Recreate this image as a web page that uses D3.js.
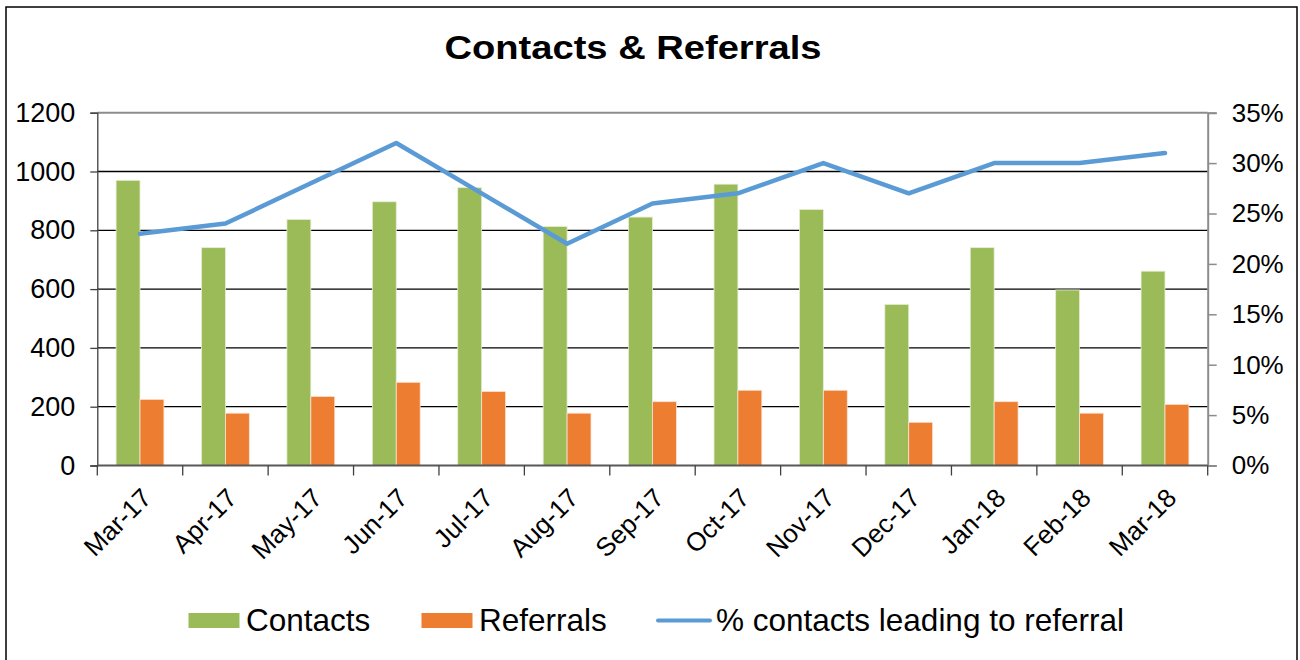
<!DOCTYPE html>
<html>
<head>
<meta charset="utf-8">
<script src="https://cdn.jsdelivr.net/npm/d3@7"></script>
<style>
	body { margin: 0; background: #fff; }
	svg text { font-family: 'Liberation Sans', Arial, sans-serif; fill: #000; }
</style>
</head>
<body>
<div id="chart"></div>
<script>
// data
var months = [ 'Mar-17', 'Apr-17', 'May-17', 'Jun-17', 'Jul-17', 'Aug-17', 'Sep-17', 'Oct-17', 'Nov-17', 'Dec-17', 'Jan-18', 'Feb-18', 'Mar-18' ];
var contacts = [ 970, 741, 837, 897, 945, 813, 845, 957, 871, 548, 741, 597, 661 ];
var referrals = [ 225, 178, 235, 283, 252, 178, 217, 256, 256, 147, 217, 178, 208 ];
var pctReferral = [ 0.23, 0.24, 0.28, 0.32, 0.27, 0.22, 0.26, 0.27, 0.30, 0.27, 0.30, 0.30, 0.31 ];
var leftTicks = [ 0, 200, 400, 600, 800, 1000, 1200 ];
var rightTicks = [ 0, 0.05, 0.1, 0.15, 0.2, 0.25, 0.3, 0.35 ];

var width = 1300;
var height = 660;
var margin = { top: 112.7, right: 92.3, bottom: 194.5, left: 97.3 };

var svg = d3.select('#chart').append('svg').attr('width', width).attr('height', height);

// outer frame
svg.append('rect')
	.attr('x', 6).attr('y', 7)
	.attr('width', 1291).attr('height', 680)
	.attr('fill', 'none').attr('stroke', '#000').attr('stroke-width', 1.5);

svg.append('text')
	.attr('x', 633).attr('y', 59)
	.attr('text-anchor', 'middle')
	.style('font-size', '33px').style('font-weight', 'bold')
	.attr('textLength', 377).attr('lengthAdjust', 'spacingAndGlyphs')
	.text('Contacts & Referrals');

var x = d3.scaleBand()
	.domain(months)
	.range([ margin.left, width - margin.right ])
	.paddingInner(0.44)
	.paddingOuter(0.22);

var xSub = d3.scaleBand().domain([ 'contacts', 'referrals' ]).range([ 0, x.bandwidth() ]);

var y = d3.scaleLinear().domain([ 0, 1200 ]).range([ height - margin.bottom, margin.top ]);
var y2 = d3.scaleLinear().domain([ 0, 0.35 ]).range([ height - margin.bottom, margin.top ]);

var x0 = margin.left, x1 = width - margin.right;

// gridlines
svg.append('g').selectAll('line').data(leftTicks.filter((d) => d > 0 && d < 1200)).enter().append('line')
	.attr('x1', x0).attr('x2', x1)
	.attr('y1', (d) => y(d)).attr('y2', (d) => y(d))
	.attr('stroke', '#000').attr('stroke-width', 1.3);

// plot border top
svg.append('line')
	.attr('x1', x0).attr('x2', x1).attr('y1', y(1200)).attr('y2', y(1200))
	.attr('stroke', '#8c8c8c').attr('stroke-width', 2);

// bars
var groups = svg.append('g').selectAll('g').data(months).enter().append('g')
	.attr('transform', (d) => `translate(${x(d)},0)`);

groups.append('rect')
	.attr('x', xSub('contacts'))
	.attr('y', (d, i) => y(contacts[i]))
	.attr('width', xSub.bandwidth())
	.attr('height', (d, i) => y(0) - y(contacts[i]))
	.attr('fill', '#9bbb59').attr('stroke', '#e6eed5').attr('stroke-width', 0.8);

groups.append('rect')
	.attr('x', xSub('referrals'))
	.attr('y', (d, i) => y(referrals[i]))
	.attr('width', xSub.bandwidth())
	.attr('height', (d, i) => y(0) - y(referrals[i]))
	.attr('fill', '#ed7d31').attr('stroke', '#fbe3d3').attr('stroke-width', 0.8);

// line
var line = d3.line()
	.x((d, i) => x(months[i]) + x.bandwidth() / 2)
	.y((d) => y2(d));

svg.append('path')
	.datum(pctReferral)
	.attr('d', line)
	.attr('fill', 'none')
	.attr('stroke', '#5b9bd5')
	.attr('stroke-width', 4.5)
	.attr('stroke-linejoin', 'round')
	.attr('stroke-linecap', 'round');

// left axis
var yAxis = svg.append('g')
	.attr('transform', `translate(${x0},0)`)
	.call(d3.axisLeft(y).tickValues(leftTicks).tickSize(7).tickPadding(15).tickFormat(d3.format('d')));
yAxis.select('.domain').attr('stroke', '#404040').attr('stroke-width', 1.3);
yAxis.selectAll('.tick line').attr('stroke', '#404040').attr('stroke-width', 1.3);
yAxis.selectAll('.tick text').style('font-size', '27px').attr('fill', '#000');

// right axis
var yAxis2 = svg.append('g')
	.attr('transform', `translate(${x1},0)`)
	.call(d3.axisRight(y2).tickValues(rightTicks).tickSize(9).tickPadding(15).tickFormat(d3.format('.0%')));
yAxis2.select('.domain').attr('stroke', '#8c8c8c').attr('stroke-width', 2);
yAxis2.selectAll('.tick line').attr('stroke', '#8c8c8c').attr('stroke-width', 1.5);
yAxis2.selectAll('.tick text').style('font-size', '26px').attr('fill', '#000');

// bottom axis
var xAxisScale = d3.scalePoint().domain(d3.range(14)).range([ x0, x1 ]);
var xAxis = svg.append('g').attr('transform', `translate(0,${y(0)})`);
xAxis.append('line')
	.attr('x1', x0).attr('x2', x1).attr('y1', 0).attr('y2', 0)
	.attr('stroke', '#595959').attr('stroke-width', 2);
xAxis.selectAll('line.tk').data(xAxisScale.domain()).enter().append('line')
	.attr('class', 'tk')
	.attr('x1', (d) => xAxisScale(d)).attr('x2', (d) => xAxisScale(d))
	.attr('y1', 0).attr('y2', 10)
	.attr('stroke', '#404040').attr('stroke-width', 1.3);
xAxis.selectAll('text').data(months).enter().append('text')
	.attr('text-anchor', 'end')
	.attr('transform', (d) => `translate(${x(d) + x.bandwidth() / 2 + 13},${34}) rotate(-45)`)
	.style('font-size', '26px')
	.text((d) => d);

// legend
var legend = svg.append('g');
legend.append('rect').attr('x', 188.5).attr('y', 613).attr('width', 51).attr('height', 15).attr('fill', '#9bbb59');
legend.append('text').attr('x', 246).attr('y', 631).style('font-size', '31.5px').text('Contacts');
legend.append('rect').attr('x', 421.5).attr('y', 613).attr('width', 51).attr('height', 15).attr('fill', '#ed7d31');
legend.append('text').attr('x', 479).attr('y', 631).style('font-size', '31.5px').text('Referrals');
legend.append('line').attr('x1', 658).attr('x2', 710).attr('y1', 620.5).attr('y2', 620.5)
	.attr('stroke', '#5b9bd5').attr('stroke-width', 4).attr('stroke-linecap', 'round');
legend.append('text').attr('x', 716).attr('y', 631).style('font-size', '31.5px').text('% contacts leading to referral');
</script>
</body>
</html>
